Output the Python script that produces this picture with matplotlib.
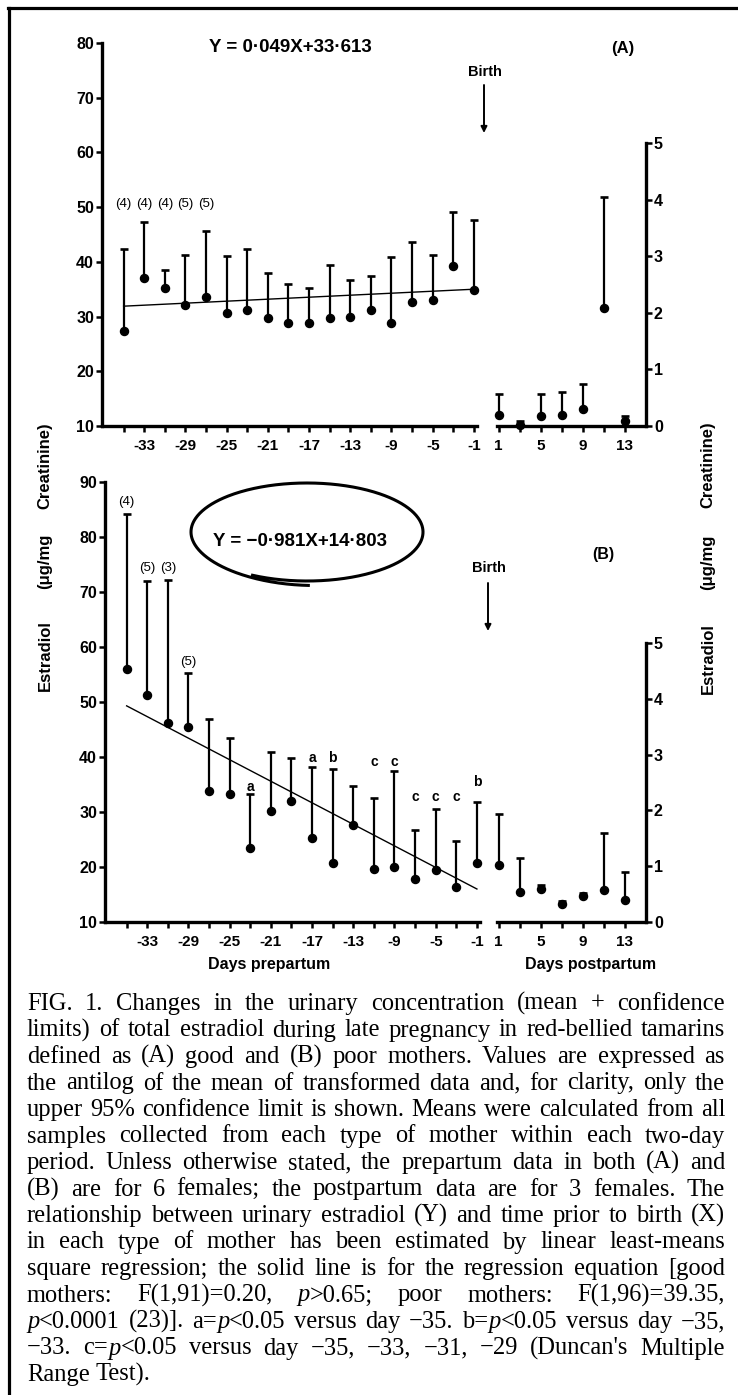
import numpy as np
import matplotlib
matplotlib.use("Agg")
import matplotlib.pyplot as plt
from matplotlib.lines import Line2D

W, H = 738, 1395
DPI = 100
SANS = ['Liberation Sans', 'DejaVu Sans']
SERIF = ['Liberation Serif', 'DejaVu Serif']

# ---------------- data ----------------
pre_days = [-35, -33, -31, -29, -27, -25, -23, -21, -19, -17, -15, -13, -11, -9, -7, -5, -3, -1]
post_days = [1, 3, 5, 7, 9, 11, 13]
pre_tick_days = [-33, -29, -25, -21, -17, -13, -9, -5, -1]
pre_tick_labels = ['-33', '-29', '-25', '-21', '-17', '-13', '-9', '-5', '-1']
post_tick_days = [1, 5, 9, 13]
post_tick_labels = ['1', '5', '9', '13']

# (A) good mothers
A_pre_mean = [27.4, 37.1, 35.2, 32.1, 33.6, 30.7, 31.2, 29.7, 28.8, 28.8, 29.7, 30.0, 31.2, 28.9, 32.7, 33.0, 39.3, 34.8]
A_pre_upper = [42.4, 47.2, 38.5, 41.3, 45.6, 41.1, 42.4, 38.0, 35.9, 35.3, 39.4, 36.7, 37.4, 40.8, 43.6, 41.3, 49.2, 47.6]
A_post_mean = [0.20, 0.02, 0.17, 0.20, 0.30, 2.08, 0.09]
A_post_upper = [0.57, 0.08, 0.57, 0.60, 0.75, 4.05, 0.18]
A_reg_days = [-35, -1]
A_reg_vals = [31.9, 35.0]
A_n_days = [-35, -33, -31, -29, -27]
A_n_labels = ['(4)', '(4)', '(4)', '(5)', '(5)']
A_equation = 'Y = 0\u00b7049X+33\u00b7613'

# (B) poor mothers
B_pre_mean = [56.0, 51.2, 46.2, 45.5, 33.8, 33.3, 23.5, 30.1, 32.0, 25.2, 20.7, 27.6, 19.6, 20.0, 17.8, 19.4, 16.4, 20.7]
B_pre_upper = [84.1, 72.0, 72.1, 55.3, 47.0, 43.5, 33.2, 41.0, 39.9, 38.1, 37.8, 34.8, 32.6, 37.5, 26.7, 30.5, 24.8, 31.8]
B_post_mean = [1.03, 0.54, 0.59, 0.32, 0.46, 0.57, 0.39]
B_post_upper = [1.93, 1.15, 0.66, 0.38, 0.52, 1.60, 0.90]
B_reg_days = [-35, -1]
B_reg_vals = [49.3, 16.0]
B_n_days = [-35, -33, -31, -29]
B_n_labels = ['(4)', '(5)', '(3)', '(5)']
B_n_heights = [86.4, 74.4, 74.4, 57.3]
B_sig_days = [-23, -17, -15, -11, -9, -7, -5, -3, -1]
B_sig_labels = ['a', 'a', 'b', 'c', 'c', 'c', 'c', 'c', 'b']
B_sig_heights = [34.6, 39.8, 39.8, 39.0, 39.0, 32.8, 32.8, 32.8, 35.4]
B_equation = 'Y = \u22120\u00b7981X+14\u00b7803'

caption_lines = [
    "FIG. 1. Changes in the urinary concentration (mean + confidence",
    "limits) of total estradiol during late pregnancy in red-bellied tamarins",
    "defined as (A) good and (B) poor mothers. Values are expressed as",
    "the antilog of the mean of transformed data and, for clarity, only the",
    "upper 95% confidence limit is shown. Means were calculated from all",
    "samples collected from each type of mother within each two-day",
    "period. Unless otherwise stated, the prepartum data in both (A) and",
    "(B) are for 6 females; the postpartum data are for 3 females. The",
    "relationship between urinary estradiol (Y) and time prior to birth (X)",
    "in each type of mother has been estimated by linear least-means",
    "square regression; the solid line is for the regression equation [good",
    "mothers: F(1,91)=0.20, *p*>0.65; poor mothers: F(1,96)=39.35,",
    "*p*<0.0001 (23)]. a=*p*<0.05 versus day \u221235. b=*p*<0.05 versus day \u221235,",
    "\u221233. c=*p*<0.05 versus day \u221235, \u221233, \u221231, \u221229 (Duncan's Multiple",
    "Range Test).",
]

# ---------------- figure ----------------
fig = plt.figure(figsize=(W / DPI, H / DPI), dpi=DPI)
fig.patch.set_facecolor('white')


def fx(x):
    return x / W


def fy(y):
    return 1 - y / H


def add_px_axes(x0, x1, ytop, ybot):
    ax = fig.add_axes([fx(x0), fy(ybot), (x1 - x0) / W, (ybot - ytop) / H])
    ax.patch.set_alpha(0)
    return ax


def bold_ticks(ax, xsize, ysize):
    for lab in ax.get_xticklabels():
        lab.set_fontweight('bold'); lab.set_family(SANS); lab.set_fontsize(xsize)
    for lab in ax.get_yticklabels():
        lab.set_fontweight('bold'); lab.set_family(SANS); lab.set_fontsize(ysize)


def style_left(ax, ylim, yticks):
    ax.set_xlim(-37.1, -0.7)
    ax.set_ylim(*ylim)
    for s in ['top', 'right']:
        ax.spines[s].set_visible(False)
    for s in ['left', 'bottom']:
        ax.spines[s].set_linewidth(2.4)
    ax.set_xticks(pre_tick_days)
    ax.set_xticklabels(pre_tick_labels)
    ax.set_xticks([d for d in pre_days if d not in pre_tick_days], minor=True)
    ax.set_yticks(yticks)
    ax.set_yticklabels([str(v) for v in yticks])
    ax.tick_params(which='both', direction='out', length=4.5, width=1.8, color='k')
    ax.tick_params(axis='x', pad=4.5)
    ax.tick_params(axis='y', pad=1.2)
    bold_ticks(ax, 11, 11.5)


def style_right(ax):
    ax.set_xlim(0.85, 15)
    ax.set_ylim(0, 5)
    for s in ['top', 'left']:
        ax.spines[s].set_visible(False)
    for s in ['right', 'bottom']:
        ax.spines[s].set_linewidth(2.4)
    ax.yaxis.tick_right()
    ax.set_yticks(range(6))
    ax.set_yticklabels([str(v) for v in range(6)])
    ax.set_xticks(post_tick_days)
    ax.set_xticklabels(post_tick_labels)
    ax.set_xticks([d for d in post_days if d not in post_tick_days], minor=True)
    ax.tick_params(which='both', direction='out', length=4.5, width=1.8, color='k')
    ax.tick_params(axis='x', pad=4.5)
    ax.tick_params(axis='y', pad=1.2)
    bold_ticks(ax, 11, 11.5)


def draw_bars(ax, x, mean, upper):
    ax.vlines(x, mean, upper, colors='k', lw=1.6, clip_on=False, zorder=3)
    ax.plot(x, upper, ls='none', marker='_', ms=6, mew=1.9, color='k', clip_on=False, zorder=3)
    ax.plot(x, mean, ls='none', marker='o', ms=5.8, color='k', clip_on=False, zorder=4)


# ---- Panel A ----
axA = add_px_axes(102, 477, 43, 426)
style_left(axA, (10, 80), list(range(10, 81, 10)))
draw_bars(axA, pre_days, A_pre_mean, A_pre_upper)
axA.plot(A_reg_days, A_reg_vals, color='k', lw=1.0, zorder=2)
for d, lab in zip(A_n_days, A_n_labels):
    axA.text(d, 50.5, lab, ha='center', va='center', fontsize=9.5, family=SANS)

axA2 = add_px_axes(497, 646, 143, 426)
style_right(axA2)
draw_bars(axA2, post_days, A_post_mean, A_post_upper)

# ---- Panel B ----
axB = add_px_axes(105, 480, 482, 922)
style_left(axB, (10, 90), list(range(10, 91, 10)))
draw_bars(axB, pre_days, B_pre_mean, B_pre_upper)
axB.plot(B_reg_days, B_reg_vals, color='k', lw=1.0, zorder=2)
for d, lab, h in zip(B_n_days, B_n_labels, B_n_heights):
    axB.text(d, h, lab, ha='center', va='center', fontsize=9.5, family=SANS)
for d, lab, h in zip(B_sig_days, B_sig_labels, B_sig_heights):
    axB.text(d, h, lab, ha='center', va='center', fontsize=10, family=SANS, fontweight='bold')

axB2 = add_px_axes(497, 646, 643, 922)
style_right(axB2)
draw_bars(axB2, post_days, B_post_mean, B_post_upper)

# ---- panel texts ----
fig.text(fx(290), fy(48), A_equation, ha='center', va='center', fontsize=13.5,
         fontweight='bold', family=SANS)
fig.text(fx(623), fy(48), '(A)', ha='center', va='center', fontsize=12, fontweight='bold', family=SANS)
fig.text(fx(300), fy(542), B_equation, ha='center', va='center', fontsize=13.5,
         fontweight='bold', family=SANS)
fig.text(fx(603), fy(555), '(B)', ha='center', va='center', fontsize=11.5, fontweight='bold', family=SANS)

for bx, by, a0, a1 in [(485, 72, 85, 133), (489, 568, 583, 631)]:
    fig.text(fx(bx), fy(by), 'Birth', ha='center', va='center', fontsize=10.5,
             fontweight='bold', family=SANS)
    fig.add_artist(matplotlib.patches.FancyArrowPatch(
        (fx(bx - 1), fy(a0)), (fx(bx - 1), fy(a1)), transform=fig.transFigure,
        arrowstyle='-|>', mutation_scale=9, lw=1.4, color='k', shrinkA=0, shrinkB=0))

# hand-drawn oval round the B equation
cx, cy, ea, eb = 307, 532, 116, 49
th = np.linspace(np.deg2rad(118), np.deg2rad(118) - 2 * np.pi - 0.5, 500)
grow = 1 + 0.09 * np.clip((np.deg2rad(118) - th - 2 * np.pi + 0.9) / 1.4, 0, 1)
ox = cx + ea * np.cos(th) * (1 + 0.02 * (grow - 1))
oy = cy + eb * np.sin(th) * grow
fig.add_artist(Line2D(fx(ox), fy(oy), transform=fig.transFigure, color='k', lw=2.2))

# axis labels (split words as in the original)
for xx, parts in [(45, [('Estradiol', 656), ('(\u03bcg/mg', 561), ('Creatinine)', 466)]),
                  (708, [('Estradiol', 659), ('(\u03bcg/mg', 562), ('Creatinine)', 465)])]:
    for s, yy in parts:
        fig.text(fx(xx), fy(yy), s, rotation=90, ha='center', va='center', fontsize=12,
                 fontweight='bold', family=SANS)

fig.text(fx(269), fy(965), 'Days prepartum', ha='center', va='center', fontsize=11.5,
         fontweight='bold', family=SANS)
fig.text(fx(591), fy(965), 'Days postpartum', ha='center', va='center', fontsize=11.5,
         fontweight='bold', family=SANS)

# frame (top and left edges)
fig.add_artist(Line2D([fx(8), fx(738)], [fy(8), fy(8)], transform=fig.transFigure, color='k', lw=2.3))
fig.add_artist(Line2D([fx(9), fx(9)], [fy(8), fy(1395)], transform=fig.transFigure, color='k', lw=2.3))

# ---------------- justified caption ----------------
renderer = fig.canvas.get_renderer()


def parse_word(w):
    segs = []
    for i, p in enumerate(w.split('*')):
        if p:
            segs.append((p, i % 2 == 1))
    return segs


def measure(s, italic, fs):
    t = fig.text(0, 0, s, fontsize=fs, family=SERIF, style='italic' if italic else 'normal')
    w = t.get_window_extent(renderer).width
    t.remove()
    return w


X0, X1 = 27, 725
fs0 = 14.0
space0 = measure('a a', False, fs0) - measure('aa', False, fs0)
nat = []
for line in caption_lines[:-1]:
    words = line.split(' ')
    ww = sum(measure(s, it, fs0) for w in words for s, it in parse_word(w))
    nat.append(ww + space0 * (len(words) - 1))
fs = fs0 * (X1 - X0) / max(nat) * 0.99
space = space0 * fs / fs0

for i, line in enumerate(caption_lines):
    words = line.split(' ')
    seg_words = [[(s, it, measure(s, it, fs)) for s, it in parse_word(w)] for w in words]
    widths = [sum(m for _, _, m in sw) for sw in seg_words]
    if i == len(caption_lines) - 1 or len(words) == 1:
        gap = space
    else:
        gap = (X1 - X0 - sum(widths)) / (len(words) - 1)
    yb = 1005 + 26.5 * i + 5
    x = X0
    for sw, wd in zip(seg_words, widths):
        xs = x
        for s, it, m in sw:
            fig.text(fx(xs), fy(yb), s, ha='left', va='baseline', fontsize=fs, family=SERIF,
                     style='italic' if it else 'normal')
            xs += m
        x += wd + gap

fig.savefig('out.png', dpi=DPI, facecolor='white')
